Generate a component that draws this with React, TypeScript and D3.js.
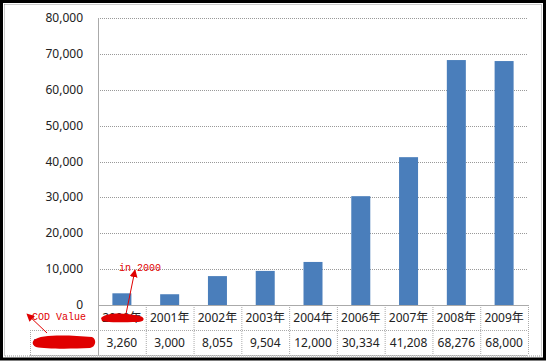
import React, { useEffect, useRef } from 'react';
import * as d3 from 'd3';

const years = ['2000年', '2001年', '2002年', '2003年', '2004年', '2006年', '2007年', '2008年', '2009年'];
const codValues = [3260, 3000, 8055, 9504, 12000, 30334, 41208, 68276, 68000];
const yTicks = [0, 10000, 20000, 30000, 40000, 50000, 60000, 70000, 80000];

const W = 548;
const H = 362;
const font = "'Noto Sans', 'Noto Sans CJK SC', sans-serif";

const App = () => {
  const ref = useRef<SVGSVGElement>(null);

  useEffect(() => {
    const svg = d3.select(ref.current);
    svg.selectAll('*').remove();

    const left = 98, right = 528, top = 18, bottom = 305;
    const row1 = 330, row2 = 355, legendLeft = 30;

    const x = d3.scaleBand<string>().domain(years).range([left, right]).padding(0);
    const y = d3.scaleLinear().domain([0, 80000]).range([bottom, top]);

    svg.append('rect').attr('width', W).attr('height', H).attr('fill', '#fff');

    // outer frame
    svg.append('rect')
      .attr('x', 1.5).attr('y', 1.5).attr('width', 543).attr('height', 357.5)
      .attr('fill', 'none').attr('stroke', '#000').attr('stroke-width', 3);
    svg.append('rect')
      .attr('x', 4.5).attr('y', 4.5).attr('width', 537).attr('height', 351.5)
      .attr('fill', 'none').attr('stroke', '#999').attr('stroke-dasharray', '1,1');

    // gridlines
    svg.append('g').selectAll('line')
      .data(yTicks.filter(d => d > 0))
      .join('line')
      .attr('x1', left).attr('x2', right)
      .attr('y1', d => Math.round(y(d)) + 0.5).attr('y2', d => Math.round(y(d)) + 0.5)
      .attr('stroke', '#999').attr('stroke-dasharray', '1,1');

    // y labels
    svg.append('g').selectAll('text')
      .data(yTicks)
      .join('text')
      .attr('x', 83).attr('y', d => y(d) + 4)
      .attr('text-anchor', 'end')
      .attr('font-family', font).attr('font-size', 12).attr('fill', '#222')
      .text(d => d3.format(',')(d));

    // bars
    const bw = 19;
    svg.append('g').selectAll('rect')
      .data(codValues)
      .join('rect')
      .attr('x', (d, i) => x(years[i])! + x.bandwidth() / 2 - bw / 2)
      .attr('y', d => y(d))
      .attr('width', bw)
      .attr('height', d => bottom - y(d))
      .attr('fill', '#4a7ebb');

    // axis line (left) and category line
    svg.append('line').attr('x1', left + 0.5).attr('x2', left + 0.5).attr('y1', top).attr('y2', row2)
      .attr('stroke', '#aaa');
    svg.append('line').attr('x1', left).attr('x2', right).attr('y1', bottom + 0.5).attr('y2', bottom + 0.5)
      .attr('stroke', '#aaa');

    // data table
    const grid = svg.append('g').attr('stroke', '#aaa').attr('stroke-dasharray', '1,1');
    grid.selectAll('line.v')
      .data(years)
      .join('line')
      .attr('x1', d => x(d)! + x.bandwidth() + 0.5).attr('x2', d => x(d)! + x.bandwidth() + 0.5)
      .attr('y1', bottom).attr('y2', row2);
    grid.append('line').attr('x1', legendLeft).attr('x2', right).attr('y1', row1 + 0.5).attr('y2', row1 + 0.5);
    grid.append('line').attr('x1', legendLeft).attr('x2', right).attr('y1', row2 + 0.5).attr('y2', row2 + 0.5);
    grid.append('line').attr('x1', legendLeft + 0.5).attr('x2', legendLeft + 0.5).attr('y1', row1).attr('y2', row2);

    svg.append('g').selectAll('text')
      .data(years)
      .join('text')
      .attr('x', d => x(d)! + x.bandwidth() / 2).attr('y', (bottom + row1) / 2 + 4.5)
      .attr('text-anchor', 'middle')
      .attr('font-family', font).attr('font-size', 12).attr('fill', '#222')
      .text(d => d);

    svg.append('g').selectAll('text')
      .data(codValues)
      .join('text')
      .attr('x', (d, i) => x(years[i])! + x.bandwidth() / 2).attr('y', (row1 + row2) / 2 + 4.5)
      .attr('text-anchor', 'middle')
      .attr('font-family', font).attr('font-size', 12).attr('fill', '#222')
      .text(d => d3.format(',')(d));

    // legend key (hidden by scribble)
    svg.append('rect').attr('x', 34).attr('y', 339).attr('width', 7).attr('height', 7).attr('fill', '#4a7ebb');
    svg.append('text').attr('x', 44).attr('y', 347)
      .attr('font-family', font).attr('font-size', 12).attr('fill', '#222').text('COD');

    // red annotations
    const red = '#e00000';
    const defs = svg.append('defs');
    defs.append('marker')
      .attr('id', 'arrow').attr('viewBox', '0 0 10 10').attr('refX', 9).attr('refY', 5)
      .attr('markerWidth', 8).attr('markerHeight', 8).attr('markerUnits', 'userSpaceOnUse')
      .attr('orient', 'auto')
      .append('path').attr('d', 'M0,0L10,5L0,10z').attr('fill', red);

    svg.append('path')
      .attr('d', 'M101,318 C108,312 125,313 140,316 C146,318 144,322 138,322 C124,322 110,323 102,321 Z')
      .attr('fill', red);
    svg.append('path')
      .attr('d', 'M34,340 C40,334 70,335 92,337 C97,339 96,347 90,348 C70,349 45,349 36,347 C32,345 32,342 34,340 Z')
      .attr('fill', red);

    svg.append('line').attr('x1', 126).attr('y1', 314).attr('x2', 135).attr('y2', 270)
      .attr('stroke', red).attr('stroke-width', 1).attr('marker-end', 'url(#arrow)');
    svg.append('line').attr('x1', 47).attr('y1', 333).attr('x2', 27).attr('y2', 314)
      .attr('stroke', red).attr('stroke-width', 1).attr('marker-end', 'url(#arrow)');

    svg.append('text').attr('x', 119).attr('y', 271)
      .attr('font-family', "'Liberation Mono', monospace").attr('font-size', 10).attr('fill', red)
      .text('in 2000');
    svg.append('text').attr('x', 32).attr('y', 320)
      .attr('font-family', "'Liberation Mono', monospace").attr('font-size', 10).attr('fill', red)
      .text('COD Value');
  }, []);

  return <svg ref={ref} width={W} height={H} style={{ position: 'absolute', left: 0, top: 0 }} />;
};

export default App;
